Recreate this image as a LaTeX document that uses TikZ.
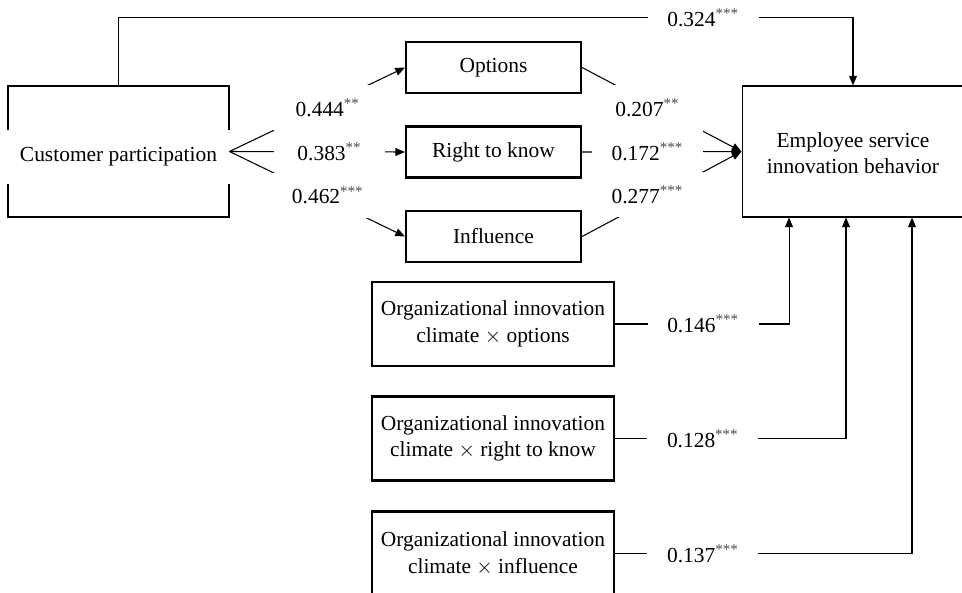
\documentclass[tikz,border=0pt]{standalone}
\usepackage{fontspec}
\setmainfont{Liberation Serif}
\usepackage{xcolor}
\usepackage{tikz}
\usetikzlibrary{arrows.meta}

\newcommand{\stars}[1]{\textsuperscript{\color{black!70}#1}}

\begin{document}
\begin{tikzpicture}[x=0.02cm, y=-0.02cm, every node/.style={font=\fontsize{12.2pt}{15pt}\selectfont},
  bigbox/.style={draw, line width=0.6pt, minimum width=4.42cm, minimum height=2.62cm, inner sep=0pt},
  medbox/.style={draw, line width=1.2pt, minimum width=3.5cm, minimum height=1.02cm, inner sep=0pt},
  modbox/.style={draw, line width=1.2pt, minimum width=4.84cm, minimum height=1.68cm, align=center, inner sep=0pt},
  coef/.style={fill=white, minimum width=2.22cm, minimum height=0.9cm, inner sep=0pt},
  arr/.style={line width=0.6pt, -{Triangle[length=5.5pt, width=4.5pt]}}]
  \useasboundingbox (0,0) rectangle (962,592);
  \clip (0,0) rectangle (962,592);
  \node[bigbox] (cp) at (118.5,151.5) {};
  \node[fill=white, minimum width=4.52cm, minimum height=1.08cm, inner sep=0pt] (cptext) at (118.5,157) {Customer participation};
  \node[bigbox, minimum width=4.44cm] (esib) at (853,151.5) {};
  \node[align=center] (esibtext) at (853,153) {Employee service\\innovation behavior};
  \node[medbox] (opt) at (493.5,67.5) {Options};
  \node[medbox] (rtk) at (493.5,152) {Right to know};
  \node[medbox] (inf) at (493.5,236.5) {Influence};
  \node[modbox] (m1) at (493,324) {Organizational innovation\\climate $\times$ options};
  \node[modbox] (m2) at (493,438.5) {Organizational innovation\\climate $\times$ right to know};
  \node[modbox] (m3) at (493,553.5) {Organizational innovation\\climate $\times$ influence};
  % paths
  \draw[arr] (cp.east) -- node[coef, pos=0.56, yshift=-0.07cm] {0.444\stars{**}} (opt.west);
  \draw[arr] (cp.east) -- node[coef, pos=0.57] {0.383\stars{**}} (rtk.west);
  \draw[arr] (cp.east) -- node[coef, pos=0.56, yshift=0.08cm] {0.462\stars{***}} (inf.west);
  \draw[arr] (opt.east) -- node[coef, pos=0.41, yshift=-0.12cm] {0.207\stars{**}} (esib.west);
  \draw[arr] (rtk.east) -- node[coef, pos=0.41] {0.172\stars{***}} (esib.west);
  \draw[arr] (inf.east) -- node[coef, pos=0.41, yshift=0.14cm] {0.277\stars{***}} (esib.west);
  \draw[arr] (cp.north) -- ++(0,-68) -| node[coef, pos=0.398] {0.324\stars{***}} (esib.north);
  \draw[arr] (m1.east) -| node[coef, pos=0.253] {0.146\stars{***}} ([xshift=-1.28cm]esib.south);
  \draw[arr] (m2.east) -| node[coef, pos=0.19] {0.128\stars{***}} ([xshift=-0.14cm]esib.south);
  \draw[arr] (m3.east) -| node[coef, pos=0.148] {0.137\stars{***}} ([xshift=1.18cm]esib.south);
\end{tikzpicture}
\end{document}
